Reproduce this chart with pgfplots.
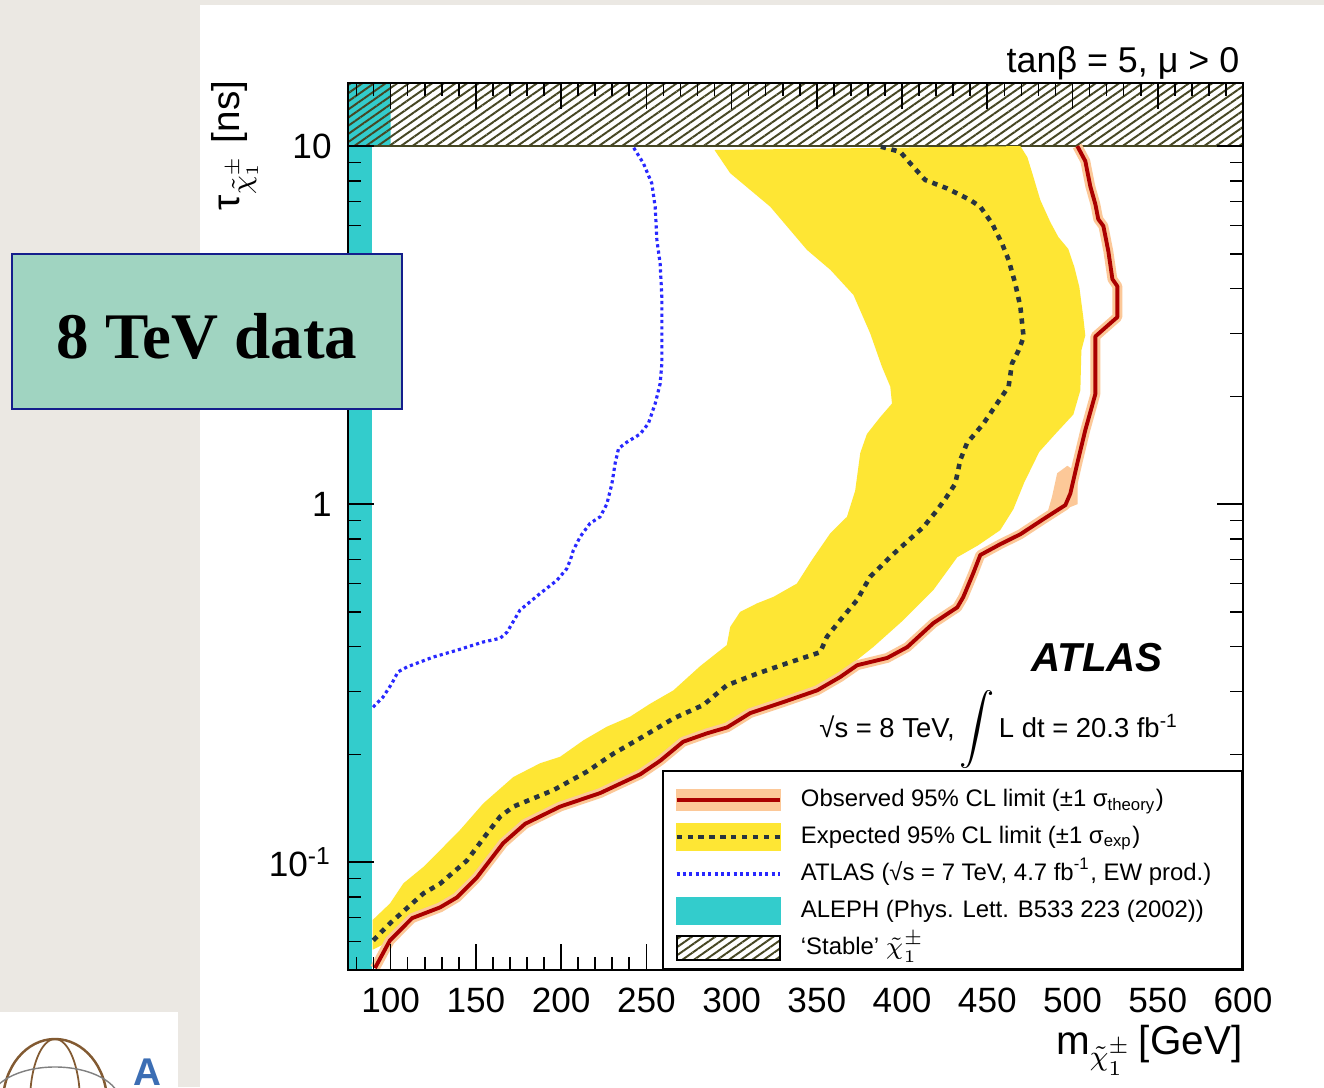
\documentclass[border=0pt]{standalone}
\usepackage{fontspec}
\setmainfont{Liberation Sans}
\newfontfamily\boxserif{Liberation Serif}
\usepackage{pgfplots}
\pgfplotsset{compat=1.18}
\usetikzlibrary{patterns.meta}
\definecolor{bggray}{RGB}{235,232,227}
\definecolor{aleph}{RGB}{51,204,204}
\definecolor{expband}{RGB}{254,230,52}
\definecolor{obsred}{RGB}{170,0,0}
\definecolor{theoband}{RGB}{252,200,152}
\definecolor{expline}{RGB}{40,52,62}
\definecolor{atlasblue}{RGB}{40,40,255}
\definecolor{hatchc}{RGB}{70,70,35}
\definecolor{boxfill}{RGB}{160,212,193}
\definecolor{boxedge}{RGB}{20,30,140}
\definecolor{logobrown}{RGB}{130,90,50}
\definecolor{logoblue}{RGB}{60,110,180}
\begin{document}
\begin{tikzpicture}
\useasboundingbox (0,0) rectangle (132.4mm,108.7mm);
\fill[bggray] (0,0) rectangle (132.4mm,108.7mm);
\fill[white] (20mm,0) rectangle (132.4mm,108.2mm);
% logo placeholder
\begin{scope}
\clip (0,0) rectangle (17.8mm,7.5mm);
\fill[white] (0,0) rectangle (17.8mm,7.5mm);
\draw[logobrown, line width=0.7pt] (5.5mm,-1.5mm) ellipse (5.2mm and 6.3mm);
\draw[logobrown, line width=0.5pt] (5.5mm,-1.5mm) ellipse (2.5mm and 6.3mm);
\draw[gray, line width=0.4pt] (5.5mm,-1.5mm) ellipse (6.5mm and 3.5mm);
\node[text=logoblue, font=\bfseries\fontsize{11}{11}\selectfont, anchor=base] at (14.7mm,0.2mm) {A};
\end{scope}

\begin{axis}[
  at={(34.8mm,11.7mm)}, anchor=south west,
  scale only axis, width=89.5mm, height=88.7mm,
  xmin=75, xmax=600, ymin=0.05, ymax=15, ymode=log,
  axis on top,
  xtick={100,150,...,600},
  xticklabels={100,150,200,250,300,350,400,450,500,550,600},
  minor xtick={80,90,...,600},
  ytick={0.1,1,10},
  yticklabels={10\textsuperscript{-1},1,10},
  minor ytick={0.05,0.06,0.07,0.08,0.09,0.2,0.3,0.4,0.5,0.6,0.7,0.8,0.9,2,3,4,5,6,7,8,9},
  tick align=inside, xtick pos=both, ytick pos=both,
  major tick length=2.6mm, minor tick length=1.3mm,
  every tick/.style={black, line width=0.45pt},
  axis line style={line width=0.6pt},
  ticklabel style={font=\fontsize{10}{12}\selectfont},
  yticklabel style={xshift=-0.4mm},
  xticklabel style={yshift=-0.6mm},
  xlabel={m$_{\tilde{\chi}^{\pm}_{1}}$\,[GeV]},
  ylabel={τ$_{\tilde{\chi}^{\pm}_{1}}$ [ns]},
  xlabel style={at={(axis description cs:1,-0.0947)}, anchor=base east, inner sep=0pt, font=\fontsize{11.5}{13}\selectfont},
  ylabel style={at={(axis description cs:-0.121,1.0034)}, anchor=base east, inner sep=0pt, font=\fontsize{11}{13}\selectfont},
  legend style={at={(1,0)}, anchor=south east, draw=black, line width=0.6pt, fill=white,
    inner xsep=1.1mm, inner ysep=0.65mm, column sep=1.9mm, row sep=0pt,
    nodes={inner sep=0pt, text depth=0.8mm, text height=2.9mm},
    font=\fontsize{6.8}{8}\selectfont},
  legend cell align=left,
]
% ALEPH
\addplot[fill=aleph, draw=none, forget plot] coordinates {(75,0.05) (89,0.05) (89,10) (100,10) (100,15) (75,15)} -- cycle;
% stable hatch
\addplot[pattern={Lines[angle=35,distance=1.9pt,line width=0.55pt]}, pattern color=hatchc, draw=hatchc, line width=0.5pt, forget plot]
  coordinates {(75,10) (600,10) (600,15) (75,15)} -- cycle;
% expected band
\addplot[fill=expband, draw=none, forget plot] coordinates {
(89.5,0.057) (89.5,0.069) (99.6,0.0767) (107.5,0.0873) (119.2,0.097) (129.0,0.108) (140.7,0.123)
(154.4,0.146) (172.0,0.173) (187.7,0.189) (199.4,0.197) (213.1,0.219) (226.8,0.239) (240.5,0.255)
(252.2,0.277) (265.9,0.302) (281.6,0.353) (297.2,0.404) (299.2,0.454) (305.0,0.500) (314.8,0.528)
(324.6,0.551) (338.3,0.600) (347.1,0.698) (357.9,0.829) (367.7,0.922) (372.5,1.09) (375.5,1.39)
(379.4,1.57) (387.2,1.75) (394.1,1.91) (393.1,2.13) (388.2,2.42) (381.3,3.00) (371.5,3.84)
(358.0,4.51) (344.2,5.13) (322.7,6.77) (299.2,8.40) (290,9.75) (469.4,10) (473.5,9.31) (476.4,8.40)
(481.1,7.07) (487.0,6.13) (491.7,5.57) (497.5,5.16) (501.1,4.59) (504.0,4.04) (506.3,3.33)
(507.5,2.96) (505.2,2.69) (504.6,2.08) (500.5,1.78) (489.9,1.57) (480.5,1.40) (471.7,1.15)
(465.3,0.968) (457.6,0.846) (444.7,0.768) (432.4,0.711) (418.3,0.575) (400.7,0.474) (383.1,0.399)
(363.7,0.337) (347.9,0.302) (324.4,0.271) (295.1,0.238) (271.6,0.219) (258,0.195) (246.4,0.180)
(234.6,0.166) (211.2,0.152) (190.6,0.136) (175.9,0.121) (166.0,0.1115) (150.7,0.0905) (139.0,0.0795)
(129.0,0.0746) (112.6,0.0695) (99.6,0.0602) (89.5,0.057)} -- cycle;
% ATLAS 7 TeV
\addplot[atlasblue, line width=0.9pt, dash pattern=on 0.9pt off 0.9pt, forget plot] coordinates {
(89.7,0.271) (95.5,0.289) (100.8,0.316) (104.3,0.340) (109.6,0.351) (124.9,0.374) (139.0,0.391)
(154.2,0.412) (164.2,0.422) (168.3,0.439) (175.9,0.506) (187.7,0.563) (197.6,0.613) (203.3,0.66)
(205.5,0.70) (207.2,0.744) (211.2,0.811) (217.0,0.884) (222.9,0.922) (226.8,1.00) (229.8,1.14)
(231.7,1.30) (233.7,1.43) (238.6,1.49) (246.4,1.57) (251.2,1.68) (255.2,1.91) (258.1,2.17)
(259.1,2.47) (259.1,3.79) (258.1,4.70) (256.2,5.46) (255.2,6.76) (253.2,7.87) (248.3,8.95)
(243.4,9.75) (242,10)};
% theory band around observed
\addplot[fill=theoband, draw=none, forget plot] coordinates {(484,0.90) (488,1.05) (491,1.22) (497,1.28) (503,1.22) (503,1.0) (496,0.97)} -- cycle;
\addplot[theoband, line width=2.8pt, line join=round, forget plot] coordinates {
(90.8,0.0506) (99.6,0.0605) (112.6,0.0698) (129.0,0.0748) (139.0,0.0798) (150.7,0.0908) (166.0,0.113)
(178.9,0.128) (199.4,0.143) (222.9,0.156) (246.4,0.176) (258.1,0.192) (271.6,0.217) (285.5,0.229)
(297.4,0.238) (311.0,0.261) (330.3,0.280) (350.2,0.302) (363.7,0.329) (373.7,0.355) (391.3,0.372)
(403.1,0.399) (418.3,0.465) (432.4,0.515) (435.9,0.550) (441.8,0.642) (445.9,0.721) (457.6,0.773)
(469.4,0.824) (482.9,0.908) (495.8,0.994) (498.7,1.07) (502.8,1.30) (507.5,1.61) (513.4,2.03)
(513.4,2.94) (526.3,3.33) (526.3,4.06) (523.4,4.25) (521.0,5.09) (518.1,5.98) (515.1,6.25)
(513.4,6.88) (510.4,7.73) (507.5,9.08) (502.8,10)};
% observed
\addplot[obsred, line width=1.1pt, line join=round, forget plot] coordinates {
(90.8,0.0506) (99.6,0.0605) (112.6,0.0698) (129.0,0.0748) (139.0,0.0798) (150.7,0.0908) (166.0,0.113)
(178.9,0.128) (199.4,0.143) (222.9,0.156) (246.4,0.176) (258.1,0.192) (271.6,0.217) (285.5,0.229)
(297.4,0.238) (311.0,0.261) (330.3,0.280) (350.2,0.302) (363.7,0.329) (373.7,0.355) (391.3,0.372)
(403.1,0.399) (418.3,0.465) (432.4,0.515) (435.9,0.550) (441.8,0.642) (445.9,0.721) (457.6,0.773)
(469.4,0.824) (482.9,0.908) (495.8,0.994) (498.7,1.07) (502.8,1.30) (507.5,1.61) (513.4,2.03)
(513.4,2.94) (526.3,3.33) (526.3,4.06) (523.4,4.25) (521.0,5.09) (518.1,5.98) (515.1,6.25)
(513.4,6.88) (510.4,7.73) (507.5,9.08) (502.8,10)};
% expected
\addplot[expline, line width=1.3pt, dash pattern=on 1.5pt off 1.6pt, forget plot] coordinates {
(89.8,0.0605) (99.6,0.0675) (109.4,0.0743) (119.2,0.0818) (129.0,0.0871) (144.7,0.101) (156.4,0.120)
(164.2,0.134) (172.0,0.143) (195.5,0.159) (215.1,0.179) (230.7,0.201) (246.4,0.222) (265.9,0.252)
(283.5,0.275) (297.2,0.312) (314.8,0.336) (334.4,0.362) (352.0,0.386) (355.9,0.426) (363.7,0.474)
(373.5,0.539) (381.3,0.627) (387.2,0.668) (393.1,0.713) (403.8,0.792) (412.6,0.864) (420.5,0.961)
(426.3,1.05) (431.2,1.14) (434.2,1.33) (438.1,1.48) (447.8,1.68) (455.7,1.91) (462.5,2.13)
(464.5,2.47) (468.4,2.69) (471.3,2.93) (469.4,3.56) (466.4,4.13) (462.5,4.81) (458.6,5.35)
(452.8,6.08) (445.9,6.77) (440.0,7.07) (426.3,7.62) (413.6,8.04) (404.8,8.95) (398.9,9.64) (386.2,10)};

\node[anchor=base, font=\bfseries\itshape\fontsize{11.5}{13}\selectfont] at (rel axis cs:0.8369,0.336) {ATLAS};
\node[anchor=base, font=\fontsize{7.8}{10}\selectfont] at (rel axis cs:0.7274,0.2627) {√s = 8 TeV,\,$\displaystyle\int$\,L dt = 20.3 fb\textsuperscript{-1}};

\addlegendimage{legend image code/.code={\fill[theoband] (0mm,-1.4mm) rectangle (10.3mm,0.6mm); \draw[obsred, line width=1.1pt] (0mm,-0.4mm) -- (10.3mm,-0.4mm);}}
\addlegendentry{\makebox[43.0mm][l]{Observed 95\% CL limit (±1 σ\textsubscript{theory})}}
\addlegendimage{legend image code/.code={\fill[expband] (0mm,-1.7mm) rectangle (10.3mm,0.9mm); \draw[expline, line width=1.3pt, dash pattern=on 1.5pt off 1.6pt] (0mm,-0.4mm) -- (10.3mm,-0.4mm);}}
\addlegendentry{Expected 95\% CL limit (±1 σ\textsubscript{exp})}
\addlegendimage{legend image code/.code={\draw[atlasblue, line width=0.9pt, dash pattern=on 0.9pt off 0.9pt] (0mm,-0.4mm) -- (10.3mm,-0.4mm);}}
\addlegendentry{ATLAS (√s = 7 TeV, 4.7 fb\textsuperscript{-1}, EW prod.)}
\addlegendimage{legend image code/.code={\fill[aleph] (0mm,-1.7mm) rectangle (10.3mm,0.9mm);}}
\addlegendentry{ALEPH (Phys. Lett. B533 223 (2002))}
\addlegendimage{legend image code/.code={\fill[pattern={Lines[angle=35,distance=1.9pt,line width=0.55pt]}, pattern color=hatchc] (0mm,-1.6mm) rectangle (10.3mm,0.8mm);}}
\addlegendentry{‘Stable’ $\tilde{\chi}^{\pm}_{1}$}
\end{axis}

\node[anchor=base east, inner sep=0pt, font=\fontsize{10.2}{12}\selectfont] at (124.0mm,101.5mm) {tanβ = 5, μ > 0};

\filldraw[fill=boxfill, draw=boxedge, line width=0.8pt] (1.2mm,67.8mm) rectangle (40.2mm,83.3mm);
\node[anchor=base, font=\boxserif\bfseries\fontsize{18.5}{20}\selectfont] at (20.7mm,72.9mm) {8 TeV data};
\end{tikzpicture}
\end{document}
